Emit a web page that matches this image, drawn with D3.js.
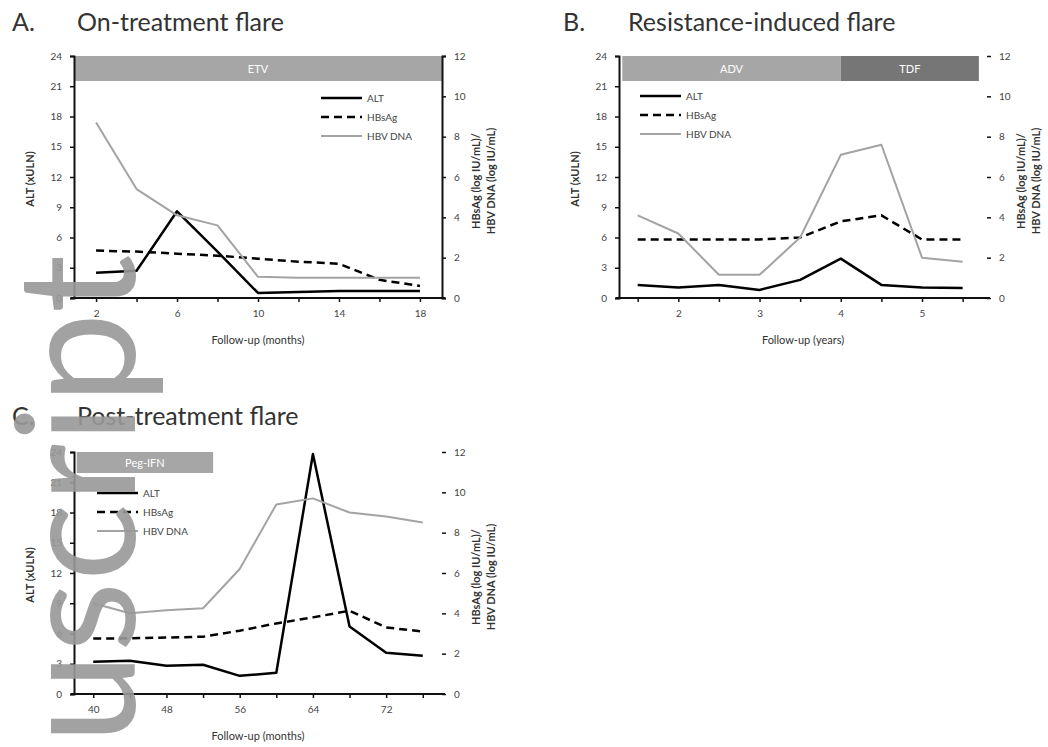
<!DOCTYPE html>
<html>
<head>
<meta charset="utf-8">
<script src="https://cdn.jsdelivr.net/npm/d3@7"></script>
<style>
  body { margin: 0; background: #fff; }
  svg { display: block; }
  text { font-family: Lato, "Open Sans", sans-serif; }
</style>
</head>
<body>
<svg id="chart" width="1048" height="747"></svg>
<script>
// ----- Data -----
// A. on-treatment flare (months)
const monthsA = [2, 4, 6, 8, 10, 12, 14, 16, 18]
const altA = [2.5, 2.7, 8.6, 4.6, 0.5, 0.6, 0.7, 0.7, 0.7]
const hbsagA = [2.35, 2.3, 2.2, 2.1, 1.95, 1.8, 1.7, 0.9, 0.6]
const dnaA = [8.7, 5.4, 4.1, 3.6, 1.05, 1.0, 1.0, 1.0, 1.0]
const xTicksA = [2, 6, 10, 14, 18]
const drugsA = [{name: 'ETV', from: 0.91, to: 19.09}]

// B. resistance-induced flare (years)
const yearsB = [1.5, 2, 2.5, 3, 3.5, 4, 4.5, 5, 5.5]
const altB = [1.3, 1.05, 1.3, 0.8, 1.8, 3.9, 1.3, 1.05, 1.0]
const hbsagB = [2.9, 2.9, 2.9, 2.9, 3.0, 3.8, 4.1, 2.9, 2.9]
const dnaB = [4.1, 3.2, 1.15, 1.15, 3.0, 7.1, 7.6, 2.0, 1.8]
const xTicksB = [2, 3, 4, 5]
const drugsB = [{name: 'ADV', from: 1.31, to: 4}, {name: 'TDF', from: 4, to: 5.7}]

// C. post-treatment flare (months)
const monthsC = [40, 44, 48, 52, 56, 60, 64, 68, 72, 76]
const altC = [3.2, 3.3, 2.8, 2.9, 1.8, 2.1, 23.8, 6.7, 4.1, 3.8]
const hbsagC = [2.75, 2.76, 2.8, 2.84, 3.14, 3.5, 3.8, 4.13, 3.3, 3.1]
const dnaC = [4.5, 4.0, 4.15, 4.25, 6.2, 9.4, 9.7, 9.0, 8.8, 8.5]
const xTicksC = [40, 48, 56, 64, 72]
const drugsC = [{name: 'Peg-IFN', from: 38.2, to: 53.1}]

const leftTicks = [0, 3, 6, 9, 12, 15, 18, 21, 24]
const rightTicks = [0, 2, 4, 6, 8, 10, 12]

const svg = d3.select('#chart')
const drugColors = {ETV: '#a6a6a6', ADV: '#a6a6a6', TDF: '#767676', 'Peg-IFN': '#a6a6a6'}

function drawPanel(p) {
  let g = svg.append('g')
  let x = d3.scaleLinear().domain(p.xDomain).range([p.left, p.right])
  let yL = d3.scaleLinear().domain([0, 24]).range([p.bottom, p.top])
  let yR = d3.scaleLinear().domain([0, 12]).range([p.bottom, p.top])

  // titles
  g.append('text').attr('x', p.titleX).attr('y', p.titleY)
    .attr('font-size', '25px').attr('fill', '#333').text(p.letter)
  g.append('text').attr('x', p.titleX + 65).attr('y', p.titleY)
    .attr('font-size', '25px').attr('fill', '#333').text(p.title)

  // treatment bars
  g.selectAll('rect.drug').data(p.drugs).enter().append('rect')
    .attr('x', d => x(d.from)).attr('width', d => x(d.to) - x(d.from))
    .attr('y', p.top).attr('height', p.barH)
    .attr('fill', d => drugColors[d.name])
  g.selectAll('text.drug').data(p.drugs).enter().append('text')
    .attr('x', d => (x(d.from) + x(d.to)) / 2).attr('y', p.top + p.barH / 2 + 4)
    .attr('text-anchor', 'middle').attr('font-size', '11px').attr('fill', '#fff')
    .text(d => d.name)

  // axes
  let axL = g.append('g').attr('transform', 'translate(' + p.left + ',0)')
    .call(d3.axisLeft(yL).tickValues(leftTicks).tickSize(4).tickPadding(8))
  let axR = g.append('g').attr('transform', 'translate(' + p.right + ',0)')
    .call(d3.axisRight(yR).tickValues(rightTicks).tickSize(4).tickPadding(8))
  if (!p.rightLine) axR.select('.domain').remove()
  let axB = g.append('g').attr('transform', 'translate(0,' + p.bottom + ')')
    .call(d3.axisBottom(x).tickValues(p.allTicks).tickSize(4).tickPadding(8)
      .tickFormat(d => p.xTicks.includes(d) ? d : ''))
  axB.select('.domain').attr('d', 'M' + (p.left - 3) + ',0H' + (p.right + 3))
  ;[axL, axR, axB].forEach(a => {
    a.select('.domain').attr('stroke', '#111').attr('stroke-width', 2)
    a.selectAll('.tick line').attr('stroke', '#111').attr('stroke-width', 1.5)
    a.selectAll('text').attr('font-size', '10px').attr('fill', '#444')
      .attr('font-family', 'Lato, sans-serif')
  })

  // axis titles
  g.append('text').attr('transform', 'translate(' + (p.left - 40) + ',' + ((p.top + p.bottom) / 2 + 2) + ') rotate(-90)')
    .attr('text-anchor', 'middle').attr('font-size', '11px').attr('font-weight', 'bold').attr('fill', '#333')
    .text('ALT (xULN)')
  let rt = g.append('text').attr('transform', 'translate(' + (p.right + 38) + ',' + ((p.top + p.bottom) / 2 + 4) + ') rotate(-90)')
    .attr('text-anchor', 'middle').attr('font-size', '11px').attr('font-weight', 'bold').attr('fill', '#333')
  rt.append('tspan').attr('x', 0).attr('dy', 0).text('HBsAg (log IU/mL)/')
  rt.append('tspan').attr('x', 0).attr('dy', 15).text('HBV DNA (log IU/mL)')
  g.append('text').attr('x', (p.left + p.right) / 2).attr('y', p.bottom + 46)
    .attr('text-anchor', 'middle').attr('font-size', '11px').attr('fill', '#333')
    .text(p.xTitle)

  // series
  let series = [
    {name: 'ALT', vals: p.alt, y: yL, color: '#000', dash: null, w: 2.5},
    {name: 'HBsAg', vals: p.hbsag, y: yR, color: '#000', dash: '8,5', w: 2.5},
    {name: 'HBV DNA', vals: p.dna, y: yR, color: '#a3a3a3', dash: null, w: 2}
  ]
  series.forEach(s => {
    let line = d3.line().x((d, i) => x(p.xs[i])).y(d => s.y(d))
    g.append('path').datum(s.vals).attr('d', line)
      .attr('fill', 'none').attr('stroke', s.color).attr('stroke-width', s.w)
      .attr('stroke-dasharray', s.dash).attr('stroke-linejoin', 'round')
  })

  // legend
  series.forEach((s, i) => {
    let ly = p.legY + i * 19
    g.append('line').attr('x1', p.legX).attr('x2', p.legX + 41).attr('y1', ly).attr('y2', ly)
      .attr('stroke', s.color).attr('stroke-width', s.w).attr('stroke-dasharray', s.dash)
    g.append('text').attr('x', p.legX + 46).attr('y', ly + 3.5)
      .attr('font-size', '10px').attr('fill', '#444').text(s.name)
  })
}

drawPanel({letter: 'A.', title: 'On-treatment flare', titleX: 12, titleY: 31,
  left: 74, right: 442, top: 56, bottom: 298, barH: 25, rightLine: true,
  xDomain: [0.91, 19.09], xs: monthsA, allTicks: monthsA, xTicks: xTicksA,
  alt: altA, hbsag: hbsagA, dna: dnaA, drugs: drugsA,
  xTitle: 'Follow-up (months)', legX: 321, legY: 98})

drawPanel({letter: 'B.', title: 'Resistance-induced flare', titleX: 563, titleY: 31,
  left: 619, right: 987, top: 56, bottom: 298, barH: 25, rightLine: false,
  xDomain: [1.27, 5.8], xs: yearsB, allTicks: yearsB, xTicks: xTicksB,
  alt: altB, hbsag: hbsagB, dna: dnaB, drugs: drugsB,
  xTitle: 'Follow-up (years)', legX: 640, legY: 96})

drawPanel({letter: 'C.', title: 'Post-treatment flare', titleX: 12, titleY: 425,
  left: 74, right: 442, top: 452, bottom: 694, barH: 21, rightLine: false,
  xDomain: [37.9, 78.1], xs: monthsC, allTicks: monthsC, xTicks: xTicksC,
  alt: altC, hbsag: hbsagC, dna: dnaC, drugs: drugsC,
  xTitle: 'Follow-up (months)', legX: 97, legY: 493})

// watermark
svg.append('text')
  .attr('transform', 'translate(135,744) rotate(-90)')
  .attr('font-family', '"Liberation Sans", Arial, sans-serif')
  .attr('font-size', '164px').attr('fill', '#999').attr('opacity', 0.9)
  .text('uscript')
</script>
</body>
</html>
